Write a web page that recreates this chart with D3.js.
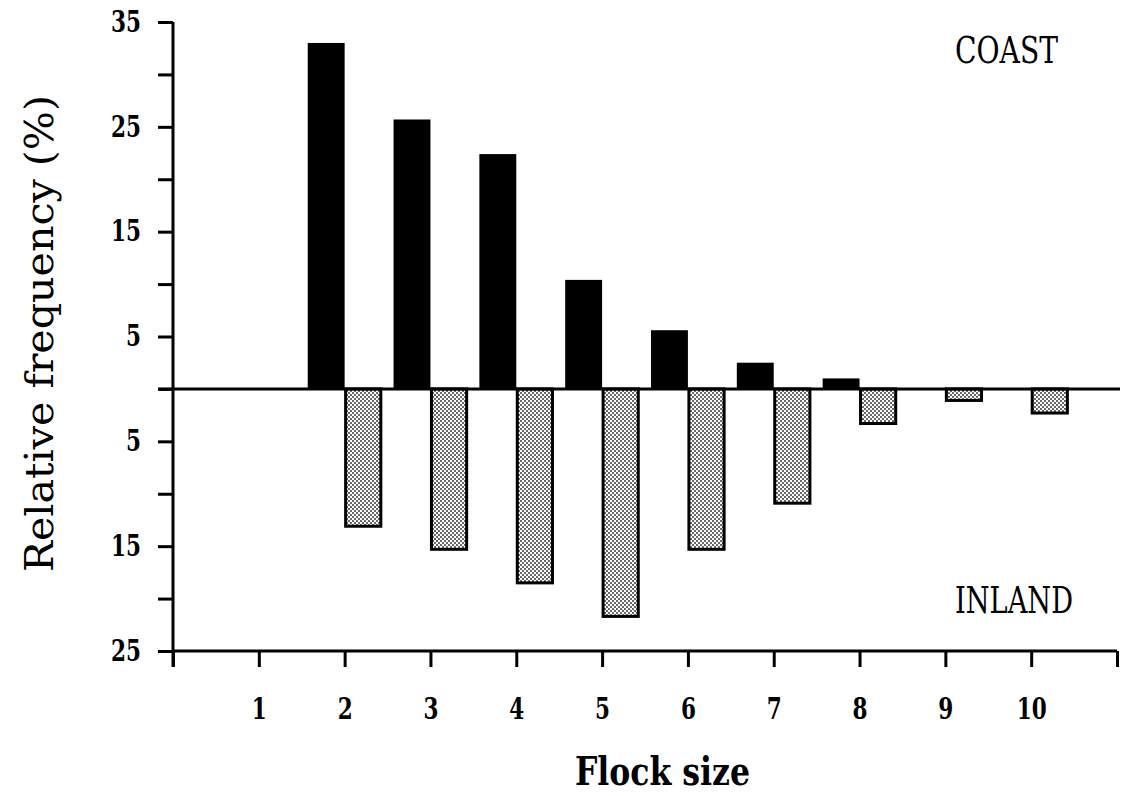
<!DOCTYPE html>
<html>
<head>
<meta charset="utf-8">
<script src="https://cdn.jsdelivr.net/npm/d3@7"></script>
<style>
  html, body { margin: 0; padding: 0; background: #fff; }
  svg { display: block; }
  text { font-family: "DejaVu Serif", "Liberation Serif", serif; fill: #000; }
</style>
</head>
<body>
<div id="chart"></div>
<script>
// flock sizes 1..10, relative frequency (%)
const sizes = [1, 2, 3, 4, 5, 6, 7, 8, 9, 10];
const coast = [0, 33.0, 25.7, 22.4, 10.4, 5.6, 2.5, 1.0, 0, 0];
const inland = [0, 13.1, 15.3, 18.5, 21.7, 15.3, 10.9, 3.3, 1.1, 2.3];
const yTicks = [35, 30, 25, 20, 15, 10, 5, 0, -5, -10, -15, -20, -25];
const yLabelled = [35, 25, 15, 5, -5, -15, -25];

(function () {
  let width = 1128,
    height = 796;

  let svg = d3.select("#chart")
    .append("svg")
    .attr("width", width)
    .attr("height", height);

  // stipple for the inland bars
  let pat = svg.append("defs").append("pattern")
    .attr("id", "dots")
    .attr("patternUnits", "userSpaceOnUse")
    .attr("width", 4)
    .attr("height", 4);
  pat.append("rect").attr("width", 4).attr("height", 4).attr("fill", "#fff");
  pat.append("circle").attr("cx", 1).attr("cy", 1).attr("r", 0.9).attr("fill", "#222");
  pat.append("circle").attr("cx", 3).attr("cy", 3).attr("r", 0.9).attr("fill", "#222");

  let x = d3.scaleLinear().domain([0, 11]).range([173, 1117]);
  let y = d3.scaleLinear().domain([-25, 35]).range([651, 22]);
  let step = x(1) - x(0);

  // coast bars (left of tick), solid black
  svg.append("g")
    .selectAll("rect")
    .data(sizes.map((s, i) => ({ s, v: coast[i] })).filter(d => d.v > 0))
    .enter()
    .append("rect")
    .attr("x", d => x(d.s) - step * 0.43)
    .attr("width", step * 0.43)
    .attr("y", d => y(d.v))
    .attr("height", d => y(0) - y(d.v))
    .attr("fill", "#000");

  // inland bars (right of tick), stippled, drawn downward
  svg.append("g")
    .selectAll("rect")
    .data(sizes.map((s, i) => ({ s, v: inland[i] })).filter(d => d.v > 0))
    .enter()
    .append("rect")
    .attr("x", d => x(d.s) + 1)
    .attr("width", step * 0.41)
    .attr("y", y(0))
    .attr("height", d => y(-d.v) - y(0))
    .attr("fill", "url(#dots)")
    .attr("stroke", "#000")
    .attr("stroke-width", 3);

  // zero line
  svg.append("line")
    .attr("x1", x(0) - 15).attr("x2", x(11) + 3)
    .attr("y1", y(0)).attr("y2", y(0))
    .attr("stroke", "#000").attr("stroke-width", 3);

  function squeeze(sel) {
    sel.attr("font-size", 29)
      .attr("font-weight", "bold")
      .attr("lengthAdjust", "spacingAndGlyphs")
      .attr("textLength", function () {
        let n = this.textContent.length;
        return n ? n * 15 : null;
      });
  }

  // y axis
  let yAxis = d3.axisLeft(y)
    .tickValues(yTicks)
    .tickSize(15)
    .tickPadding(17)
    .tickFormat(d => yLabelled.includes(d) ? Math.abs(d) : "");
  let gy = svg.append("g")
    .attr("transform", `translate(${x(0)},0)`)
    .call(yAxis);
  gy.select(".domain").attr("stroke-width", 3).attr("d", `M0,${y(35)}V${y(-25) + 16}`);
  gy.selectAll(".tick line").attr("stroke-width", 3);
  gy.selectAll(".tick text").call(squeeze);

  // x axis
  let xAxis = d3.axisBottom(x)
    .tickValues(d3.range(0, 12))
    .tickSize(16)
    .tickPadding(31)
    .tickFormat(d => sizes.includes(d) ? d : "");
  let gx = svg.append("g")
    .attr("transform", `translate(0,${y(-25)})`)
    .call(xAxis);
  gx.select(".domain").attr("stroke-width", 3).attr("d", `M${x(0)},0H${x(11)}`);
  gx.selectAll(".tick line").attr("stroke-width", 3);
  gx.selectAll(".tick text").call(squeeze);

  // labels
  svg.append("text")
    .attr("x", 955).attr("y", 63)
    .attr("font-size", 38)
    .attr("textLength", 103).attr("lengthAdjust", "spacingAndGlyphs")
    .text("COAST");

  svg.append("text")
    .attr("x", 955).attr("y", 613)
    .attr("font-size", 38)
    .attr("textLength", 118).attr("lengthAdjust", "spacingAndGlyphs")
    .text("INLAND");

  svg.append("text")
    .attr("x", 575).attr("y", 785)
    .attr("font-size", 40)
    .attr("font-weight", "bold")
    .attr("textLength", 175).attr("lengthAdjust", "spacingAndGlyphs")
    .text("Flock size");

  svg.append("text")
    .attr("transform", `translate(53,572) rotate(-90)`)
    .attr("font-size", 40)
    .attr("textLength", 477).attr("lengthAdjust", "spacingAndGlyphs")
    .text("Relative frequency (%)");
})();
</script>
</body>
</html>
